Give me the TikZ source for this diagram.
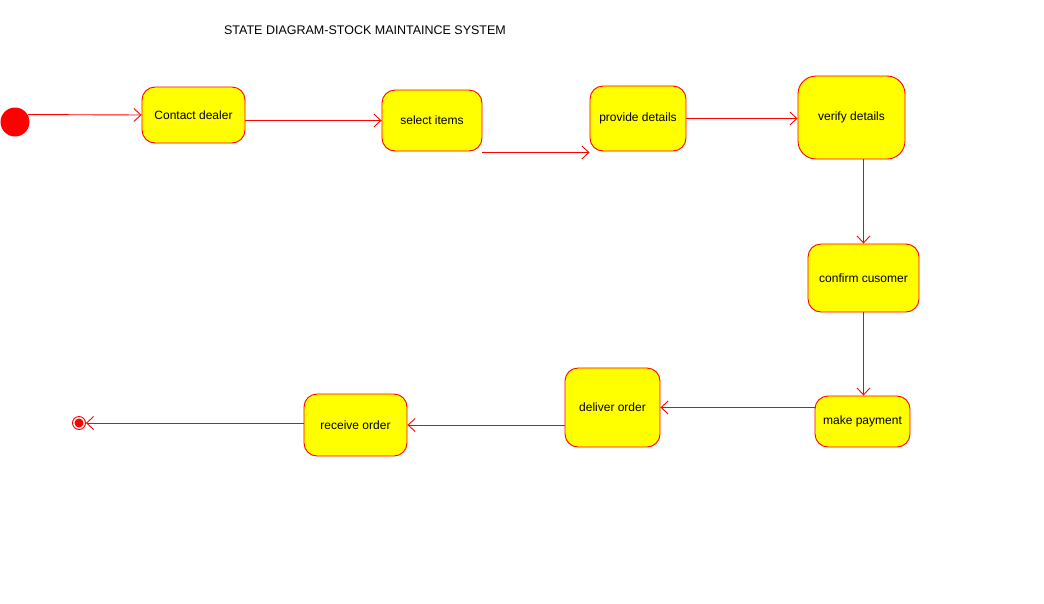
\documentclass[tikz,border=0pt]{standalone}
\usepackage{fontspec}
\setmainfont{Liberation Sans}
\usetikzlibrary{arrows.meta,calc}
\definecolor{statefill}{RGB}{255,255,0}
\definecolor{stateline}{RGB}{255,0,0}

\begin{document}
\begin{tikzpicture}[x=1pt, y=-1pt, line width=0.9pt,
  every node/.style={font=\fontsize{12}{14}\selectfont},
  state/.style={draw=stateline, fill=statefill, rounded corners=13pt, inner sep=0pt},
  trans/.style={draw=stateline, -{Straight Barb[length=7pt,width=13pt]}}]
\useasboundingbox (0,0) rectangle (1044,603);
\node[font=\fontsize{12.5}{14}\selectfont] (title) at (365,30) {STATE DIAGRAM-STOCK MAINTAINCE SYSTEM};
\node[circle, fill=stateline, minimum size=29pt, inner sep=0pt] (init) at (15,122) {};
\node[state, minimum width=103pt, minimum height=56pt] (dealer) at (193.5,115) {Contact dealer};
\node[state, minimum width=100pt, minimum height=61pt] (select) at (432,120.5) {select items};
\node[state, minimum width=96pt, minimum height=65pt] (provide) at (638,118.5) {provide details};
\node[state, rounded corners=18pt, minimum width=107pt, minimum height=83pt] (verify) at (851.5,117.5) {verify details};
\node[state, minimum width=111pt, minimum height=68pt] (confirm) at (863.5,278) {confirm cusomer};
\node[state, minimum width=95pt, minimum height=51pt] (pay) at (862.5,421.5) {make payment};
\node[state, minimum width=95pt, minimum height=79pt] (deliver) at (612.5,407.5) {deliver order};
\node[state, minimum width=103pt, minimum height=62pt] (receive) at (355.5,425) {receive order};
\node[circle, draw=stateline, fill=white, minimum size=13pt, inner sep=0pt] (final) at (79,423) {};
\fill[stateline] (final) circle (4.5pt);
% transitions
\draw[trans] (init.30) -- (dealer.west);
\draw[trans] (dealer.east |- select.west) -- (select.west);
\draw[trans] ($(select.south east)+(0,1)$) -- ($(provide.south west)+(0,1)$);
\draw[trans] (provide.east) -- (verify.west |- provide.east);
\draw[trans] (verify.south -| confirm.north) -- (confirm.north);
\draw[trans] (confirm.south) -- (confirm.south |- pay.north);
\draw[trans] (pay.west |- deliver.east) -- (deliver.east);
\draw[trans] (deliver.west |- receive.east) -- (receive.east);
\draw[trans] (receive.west |- final.east) -- (final.east);
\end{tikzpicture}
\end{document}
